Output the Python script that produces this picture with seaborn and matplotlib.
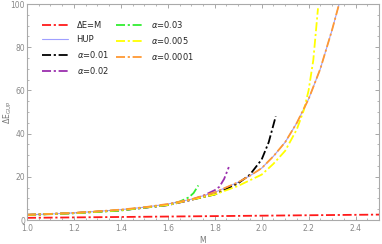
import numpy as np
import pandas as pd
import matplotlib
matplotlib.use("Agg")
import matplotlib.pyplot as plt
import seaborn as sns
from matplotlib.ticker import MultipleLocator

# Valeurs
m_line = [1.0, 2.5]
de_line = [1.0, 2.5]

m_hup = [1.0, 1.1, 1.2, 1.3, 1.4, 1.5, 1.6, 1.7, 1.8, 1.9, 1.95, 2.0, 2.05,
         2.1, 2.15, 2.2, 2.25, 2.3, 2.33]
de_hup = [2.4, 2.8, 3.3, 4.0, 4.8, 5.9, 7.4, 9.6, 12.8, 17.5, 20.5, 24.0, 29.5,
          36.0, 45.0, 56.0, 70.0, 88.0, 100.0]

m_a0001 = m_hup
de_a0001 = de_hup

m_a005 = [1.0, 1.2, 1.4, 1.6, 1.8, 1.9, 2.0, 2.05, 2.1, 2.15, 2.18, 2.2, 2.22, 2.24]
de_a005 = [2.4, 3.2, 4.6, 7.0, 11.8, 15.8, 21.0, 26.0, 32.0, 42.0, 51.0, 60.0, 74.0, 98.0]

m_a01 = [1.0, 1.2, 1.4, 1.6, 1.8, 1.9, 1.95, 2.0, 2.03, 2.06]
de_a01 = [2.4, 3.2, 4.5, 6.9, 11.8, 17.0, 21.0, 28.0, 36.0, 48.0]

m_a02 = [1.0, 1.2, 1.4, 1.6, 1.7, 1.75, 1.8, 1.82, 1.84, 1.86]
de_a02 = [2.4, 3.2, 4.5, 6.9, 9.3, 11.2, 13.8, 15.4, 19.0, 24.5]

m_a03 = [1.0, 1.2, 1.4, 1.6, 1.65, 1.69, 1.71, 1.73]
de_a03 = [2.3, 3.1, 4.4, 7.0, 8.5, 10.5, 12.5, 16.0]

sns.set_style("ticks")
plt.rcParams['font.family'] = ['DejaVu Sans']

fig, ax = plt.subplots(figsize=(3.82, 2.44), dpi=100)
fig.subplots_adjust(left=27/382, right=379/382, top=1-4/244, bottom=24/244)

dd = (5, 1.5, 1.2, 1.5)
series = [
    (m_line, de_line, 'ΔE=M', '#ff1a1a', dd, 1.3),
    (m_hup, de_hup, 'HUP', '#9f9fff', '', 0.8),
    (m_a01, de_a01, r'$\alpha$=0.01', 'black', dd, 1.3),
    (m_a02, de_a02, r'$\alpha$=0.02', '#9b2fae', dd, 1.3),
    (m_a03, de_a03, r'$\alpha$=0.03', '#33ee33', dd, 1.3),
    (m_a005, de_a005, r'$\alpha$=0.005', '#ffff00', dd, 1.3),
    (m_a0001, de_a0001, r'$\alpha$=0.0001', '#ff9933', dd, 1.3),
]
for x, y, lab, col, dash, lw in series:
    sns.lineplot(x=x, y=y, ax=ax, color=col, label=lab, linewidth=lw,
                 dashes=False)
    line = ax.get_lines()[-1]
    if dash:
        line.set_dashes(dash)

ax.set_xlim(1.0, 2.5)
ax.set_ylim(0, 100)
ax.xaxis.set_major_locator(MultipleLocator(0.2))
ax.xaxis.set_minor_locator(MultipleLocator(0.05))
ax.yaxis.set_major_locator(MultipleLocator(20))
ax.yaxis.set_minor_locator(MultipleLocator(5))
ax.tick_params(which='both', direction='in', top=True, right=True,
               colors='#999999', labelcolor='#888888', labelsize=5.5)
ax.tick_params(axis='x', pad=3)
ax.tick_params(axis='y', pad=1.5)
ax.tick_params(which='major', length=3, width=0.6)
ax.tick_params(which='minor', length=1.5, width=0.5)
for s in ax.spines.values():
    s.set_color('#aaaaaa')
    s.set_linewidth(0.8)

ax.set_xlabel('M', color='#777777', fontsize=5.5, labelpad=2)
ax.set_ylabel(r'ΔE$_{\mathrm{GUP}}$', color='#777777', fontsize=5.5)
ax.yaxis.set_label_coords(-0.037, 0.5)

leg = ax.legend(loc='upper left', bbox_to_anchor=(0.02, 0.965), ncol=2,
                frameon=False, fontsize=6, handlelength=3.2, handletextpad=1.0,
                columnspacing=0.9, labelspacing=0.6)

fig.savefig('out.png', dpi=100)
